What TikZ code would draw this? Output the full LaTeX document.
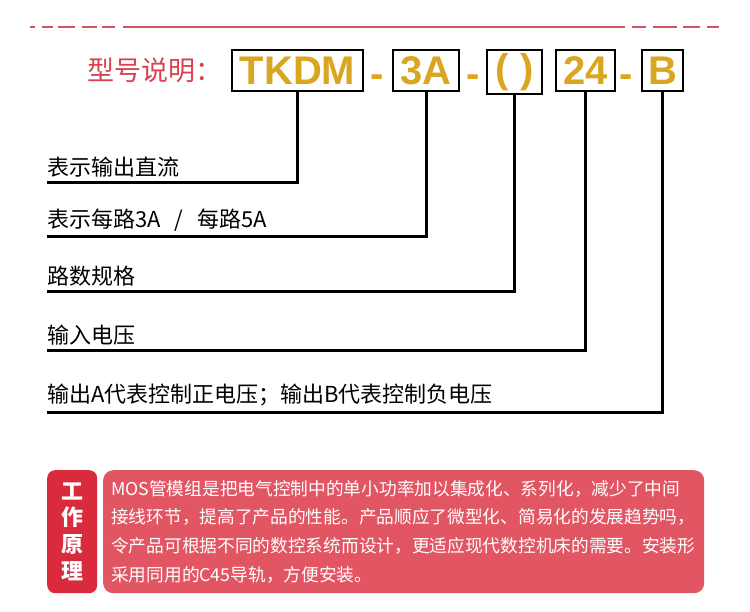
\documentclass[tikz,border=0pt]{standalone}
\usepackage{fontspec}
\setmainfont{Noto Sans CJK SC}
\newfontfamily\codefont{Liberation Sans}
\usetikzlibrary{positioning}
\definecolor{titleRed}{HTML}{D9424E}
\definecolor{ruleRed}{HTML}{CF5560}
\definecolor{codeGold}{HTML}{DAA520}
\definecolor{tabRed}{HTML}{D92B3C}
\definecolor{panelRed}{HTML}{E25664}
\tikzset{
    % Header
    topRule/.style={draw=ruleRed, line width=2.5pt},
    titleText/.style={anchor=west, inner sep=0pt, text=titleRed, font=\fontsize{27}{27}\selectfont},
    % Model code boxes
    codeBox/.style={draw=black, line width=2pt, inner sep=0pt, minimum height=41pt,
        text=codeGold, font=\codefont\bfseries\fontsize{40}{40}\selectfont},
    codeDash/.style={inner sep=0pt, text=codeGold, font=\codefont\bfseries\fontsize{40}{40}\selectfont},
    % Leaders and notes
    leader/.style={draw=black, line width=3pt},
    noteText/.style={anchor=south west, inner xsep=0pt, inner ysep=6pt, outer sep=0pt,
        font=\fontsize{22}{22}\selectfont},
    % Bottom panel
    tabBox/.style={anchor=north west, fill=tabRed, rounded corners=8pt, minimum width=50pt,
        minimum height=123pt, inner sep=0pt, align=center, text=white,
        font=\bfseries\fontsize{22}{26.7}\selectfont},
    panelBox/.style={anchor=north west, fill=panelRed, rounded corners=10pt, minimum width=601pt,
        minimum height=123pt, inner xsep=8pt, inner ysep=0pt, text width=585pt, align=left,
        text=white, font=\fontsize{17.7}{28.6}\selectfont}
}

\begin{document}
\begin{tikzpicture}[x=1pt, y=-1pt]
    \useasboundingbox (0,0) rectangle (750,612);

    % Dashed rule
    \foreach \a/\b in {30/35, 42/53, 58/75, 82/97, 102/115, 123/625, 632/646, 653/677, 683/700, 707/719}
        \draw[topRule] (\a,27) -- (\b,27);

    % Title and code
    \node[titleText] (title) at (87,70) {型号说明：};
    \node[codeBox, minimum width=131pt] (tkdm) at (297.5,70.5) {TKDM};
    \node[codeDash] (d1) at (377.5,81) {-};
    \node[codeBox, minimum width=66pt] (amp) at (426,70.5) {3A};
    \node[codeDash] (d2) at (473.5,81) {-};
    \node[codeBox, minimum width=55pt, minimum height=44pt] (ways) at (514.5,72) {( )};
    \node[codeBox, minimum width=59pt] (volt) at (585.5,70.5) {24};
    \node[codeDash] (d3) at (626,81) {-};
    \node[codeBox, minimum width=41pt] (pol) at (662.5,70.5) {B};

    % Notes
    \node[noteText] (n1) at (47,183) {表示输出直流};
    \node[noteText] (n2) at (47,237) {表示每路3A\hspace{14pt}/\hspace{14pt}每路5A};
    \node[noteText] (n3) at (47,292) {路数规格};
    \node[noteText] (n4) at (47,351) {输入电压};
    \node[noteText] (n5) at (47,412) {输出A代表控制正电压；输出B代表控制负电压};

    \draw[leader] (tkdm.south) |- (n1.south west);
    \draw[leader] (amp.south) |- (n2.south west);
    \draw[leader] (ways.south) |- (n3.south west);
    \draw[leader] (volt.south) |- (n4.south west);
    \draw[leader] (pol.south) |- (n5.south west);

    % Working principle
    \node[tabBox] (tab) at (47,470) {工\\作\\原\\理};
    \node[panelBox] (panel) at (103,470) {MOS管模组是把电气控制中的单小功率加以集成化、系列化，减少了中间\\
        接线环节，提高了产品的性能。产品顺应了微型化、简易化的发展趋势吗，\\
        令产品可根据不同的数控系统而设计，更适应现代数控机床的需要。安装形\\
        采用同用的C45导轨，方便安装。};
\end{tikzpicture}
\end{document}
